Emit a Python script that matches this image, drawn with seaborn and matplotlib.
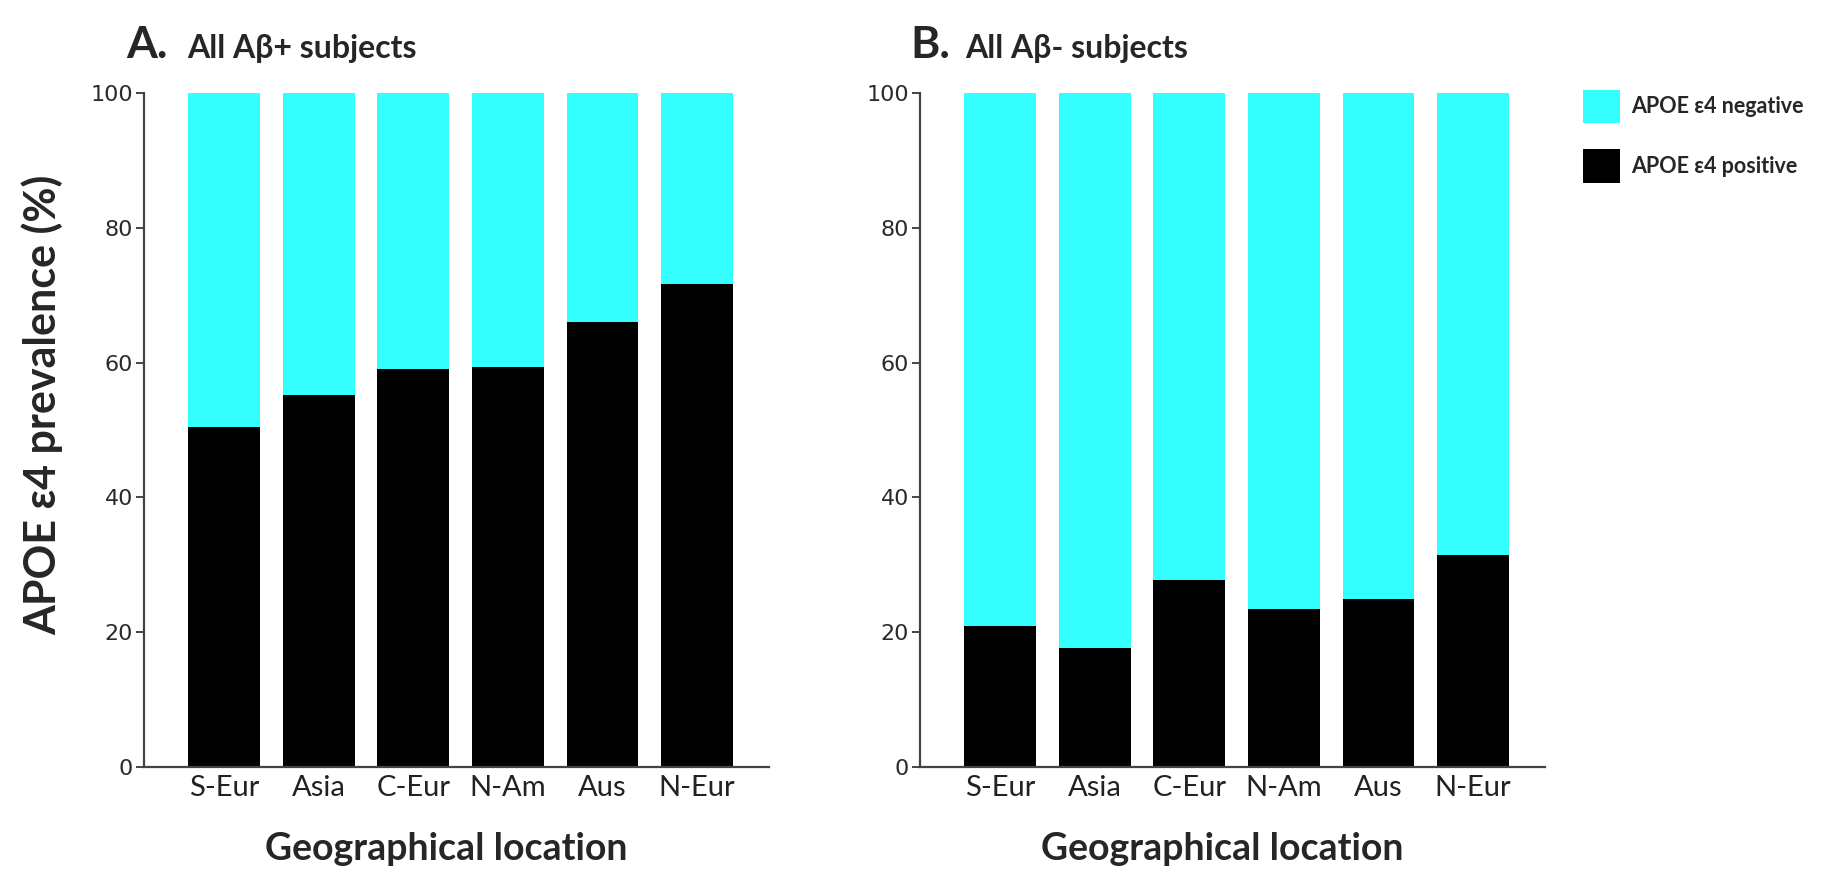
import numpy as np
import pandas as pd
import matplotlib
matplotlib.use("Agg")
import matplotlib.pyplot as plt
import seaborn as sns

# APOE e4 prevalence (%) by geographical location
regions = ["S-Eur", "Asia", "C-Eur", "N-Am", "Aus", "N-Eur"]
pos_abeta_plus = [50.5, 55.2, 59.0, 59.4, 66.0, 71.7]
pos_abeta_minus = [20.9, 17.7, 27.8, 23.4, 24.9, 31.4]
neg_abeta_plus = [100 - v for v in pos_abeta_plus]
neg_abeta_minus = [100 - v for v in pos_abeta_minus]

panel_letters = ["A.", "B."]
panel_titles = ["All A\u03b2+ subjects", "All A\u03b2- subjects"]
yticks = [0, 20, 40, 60, 80, 100]

CYAN = "#33FFFF"
BLACK = "#000000"
SPINE = "#444444"

sns.set_theme(style="ticks")
plt.rcParams["font.family"] = ["Lato", "DejaVu Sans"]

fig = plt.figure(figsize=(18.28, 8.77), dpi=100)
ax_a = fig.add_axes([0.0788, 0.1258, 0.3419, 0.7676])
ax_b = fig.add_axes([0.5033, 0.1258, 0.3419, 0.7676])


def draw_panel(ax, pos, neg):
    df = pd.DataFrame({"region": regions, "pos": pos, "neg": neg})
    df["total"] = df["pos"] + df["neg"]
    sns.barplot(data=df, x="region", y="total", order=regions, color=CYAN,
                width=0.76, linewidth=0, saturation=1, ax=ax,
                label="APOE \u03b54 negative")
    sns.barplot(data=df, x="region", y="pos", order=regions, color=BLACK,
                width=0.76, linewidth=0, saturation=1, ax=ax,
                label="APOE \u03b54 positive")
    ax.set_xlim(-0.845, 5.76)
    ax.set_ylim(0, 100)
    ax.set_yticks(yticks)
    ax.set_yticklabels([str(t) for t in yticks])
    sns.despine(ax=ax)
    for side in ["left", "bottom"]:
        ax.spines[side].set_color(SPINE)
        ax.spines[side].set_linewidth(1.6)
    ax.tick_params(axis="y", length=6, width=1.4, color=SPINE, pad=2,
                   labelsize=16, labelcolor="#2a2a2a",
                   labelfontfamily="DejaVu Sans")
    ax.tick_params(axis="x", length=0, pad=6, labelsize=21, labelcolor="#222222")
    ax.set_xlabel("Geographical location", fontsize=27, fontweight="bold")
    ax.xaxis.label.set_va("center")
    ax.xaxis.set_label_coords(0.483, -0.122)
    ax.set_ylabel("")
    if ax.get_legend() is not None:
        ax.get_legend().remove()


draw_panel(ax_a, pos_abeta_plus, neg_abeta_plus)
draw_panel(ax_b, pos_abeta_minus, neg_abeta_minus)

ax_a.set_ylabel("APOE \u03b54 prevalence (%)", fontsize=31, fontweight="bold")
ax_a.yaxis.label.set_va("center")
ax_a.yaxis.set_label_coords(-0.162, 0.538)

# panel headings
fig.text(0.0689, 0.934, panel_letters[0], fontsize=32, fontweight="bold", va="baseline")
fig.text(0.1023, 0.934, panel_titles[0], fontsize=23, fontweight="bold", va="baseline")
fig.text(0.4978, 0.934, panel_letters[1], fontsize=32, fontweight="bold", va="baseline")
fig.text(0.5279, 0.934, panel_titles[1], fontsize=23, fontweight="bold", va="baseline")

handles, labels = ax_a.get_legend_handles_labels()
fig.legend(handles[:2], labels[:2], loc="upper left",
           bbox_to_anchor=(1583 / 1828, 1 - 90 / 877), frameon=False,
           borderpad=0, borderaxespad=0, handlelength=1.73, handleheight=1.99,
           handletextpad=0.5, labelspacing=1.22,
           prop={"size": 15.5, "weight": "bold"})

fig.savefig("out.png", dpi=100)
